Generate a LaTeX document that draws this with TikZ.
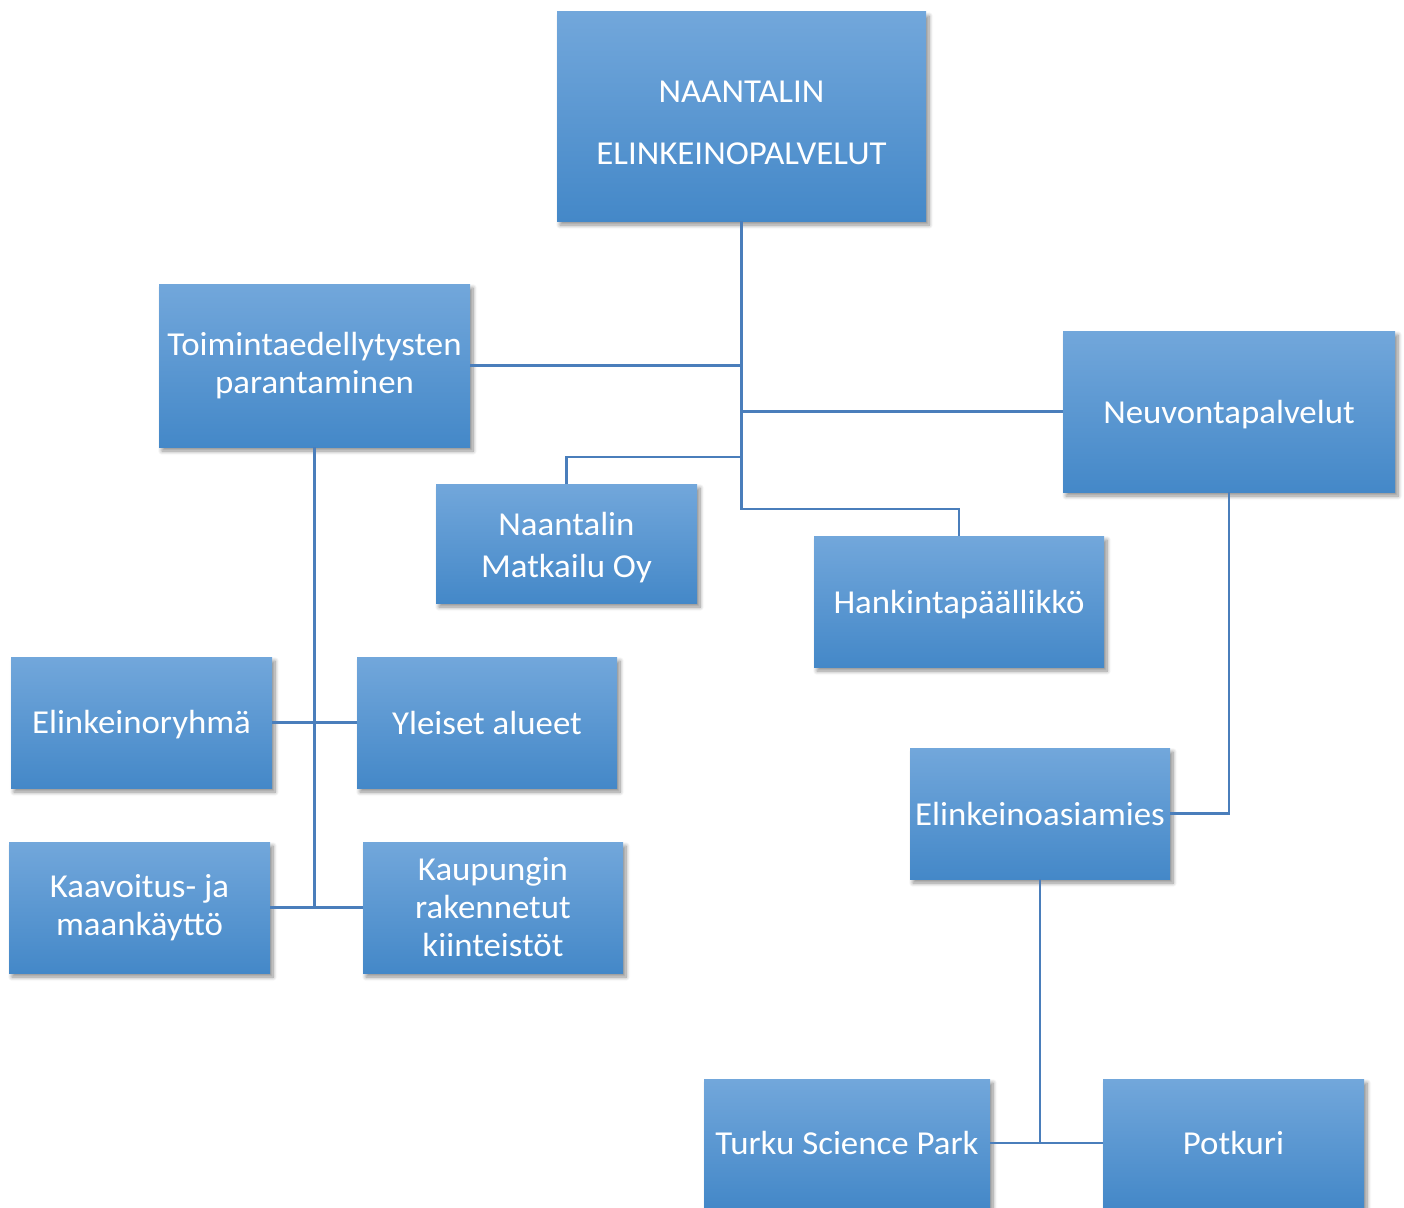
\documentclass[tikz,border=0pt]{standalone}
\usepackage{fontspec}
\setmainfont{Carlito}[FakeStretch=1.04]
\usetikzlibrary{shadows.blur,calc}
\definecolor{boxtop}{RGB}{114,167,219}
\definecolor{boxbot}{RGB}{68,136,200}
\definecolor{lineblue}{RGB}{74,126,187}
\newcommand{\upstrut}[1]{\rule{0pt}{#1pt}}
\begin{document}
\begin{tikzpicture}[x=1pt,y=-1pt,
  orgbox/.style={rectangle, inner sep=0pt, top color=boxtop, bottom color=boxbot,
    text=white, align=center, font=\fontsize{33.5}{38}\selectfont,
    blur shadow={shadow xshift=3pt, shadow yshift=-4pt, shadow blur radius=4pt, shadow blur steps=8, shadow opacity=45}},
  conn/.style={draw=lineblue, line width=2.5pt}]
\useasboundingbox (0,0) rectangle (1404,1207);
\node[orgbox, minimum width=369pt, minimum height=209pt] (top) at (741.5,116.5) {\upstrut{34}NAANTALIN\\[24pt]ELINKEINOPALVELUT};
\node[orgbox, minimum width=311pt, minimum height=163pt] (toim) at (314.5,365.5) {Toimintaedellytysten\\parantaminen};
\node[orgbox, minimum width=332pt, minimum height=161pt] (neuv) at (1229,411.5) {\upstrut{29.5}Neuvontapalvelut};
\node[orgbox, minimum width=261pt, minimum height=119pt] (matk) at (566.5,543.5) {\upstrut{31.5}Naantalin\\[4pt]Matkailu Oy};
\node[orgbox, minimum width=290pt, minimum height=131pt] (hank) at (959,601.5) {\upstrut{29.5}Hankintapäällikkö};
\node[orgbox, minimum width=261pt, minimum height=131pt] (elry) at (141.5,722.5) {\upstrut{27.5}Elinkeinoryhmä};
\node[orgbox, minimum width=260pt, minimum height=131pt] (ylei) at (487,722.5) {Yleiset alueet};
\node[orgbox, minimum width=260pt, minimum height=131pt] (asia) at (1040,813.5) {Elinkeinoasiamies};
\node[orgbox, minimum width=261pt, minimum height=131pt] (kaav) at (139.5,907.5) {Kaavoitus- ja\\maankäyttö};
\node[orgbox, minimum width=260pt, minimum height=131pt] (kaup) at (493,907.5) {Kaupungin\\rakennetut\\kiinteistöt};
\node[orgbox, minimum width=286pt, minimum height=128pt] (turku) at (847,1143) {Turku Science Park};
\node[orgbox, minimum width=261pt, minimum height=128pt] (potk) at (1233.5,1143) {Potkuri};
\coordinate (j3) at (741.5,457);
\coordinate (j4) at (741.5,509);
\draw[conn] (top.south) -- (j4) -| (hank.north);
\draw[conn] (toim.east) -- (toim.east -| top.south);
\draw[conn] (neuv.west) -- (neuv.west -| top.south);
\draw[conn] (j3) -| (matk.north);
\draw[conn] (toim.south) -- (toim.south |- kaav.east);
\draw[conn] (elry.east) -- (ylei.west);
\draw[conn] (kaav.east) -- (kaup.west);
\draw[conn] (neuv.south) |- (asia.east);
\draw[conn] (asia.south) -- (asia.south |- turku.east);
\draw[conn] (turku.east) -- (potk.west);
\end{tikzpicture}
\end{document}
